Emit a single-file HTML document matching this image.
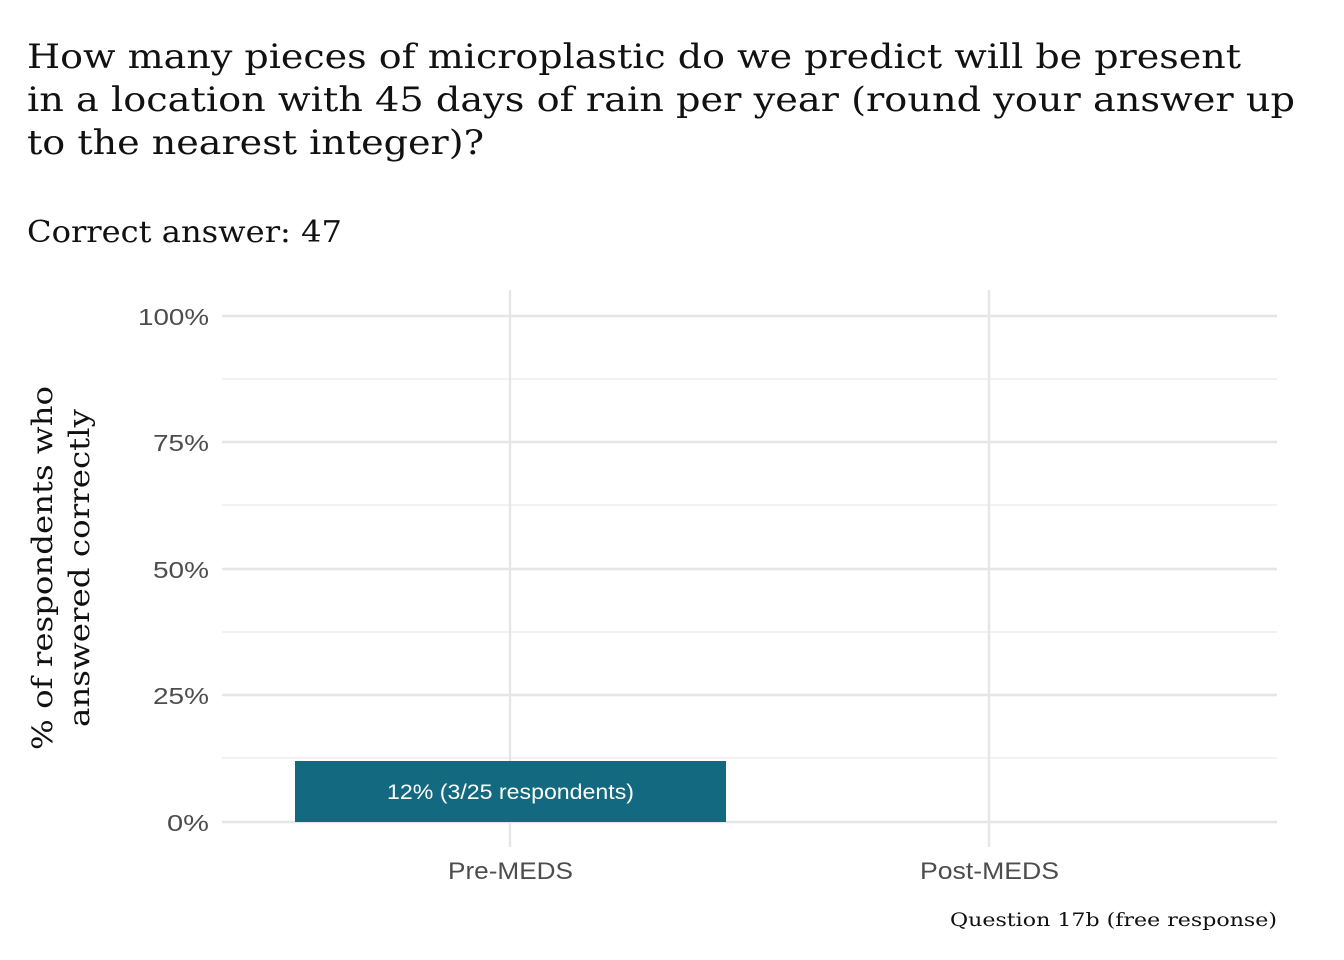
<!DOCTYPE html>
<html><head><meta charset="utf-8"><style>
html,body{margin:0;padding:0;background:#fff;}
svg{display:block;}
.t{font-family:"DejaVu Serif","Liberation Serif",serif;fill:#111;}
.s{font-family:"Liberation Sans","DejaVu Sans",sans-serif;fill:#4d4d4d;}
</style></head><body>
<svg width="1344" height="960" viewBox="0 0 1344 960" xmlns="http://www.w3.org/2000/svg">
<rect width="1344" height="960" fill="#fff"/>
<text class="t" x="27" y="68" font-size="34" textLength="1214" lengthAdjust="spacingAndGlyphs">How many pieces of microplastic do we predict will be present</text>
<text class="t" x="27" y="111" font-size="34" textLength="1268" lengthAdjust="spacingAndGlyphs">in a location with 45 days of rain per year (round your answer up</text>
<text class="t" x="27" y="154" font-size="34" textLength="457" lengthAdjust="spacingAndGlyphs">to the nearest integer)?</text>
<text class="t" x="27" y="242" font-size="30" textLength="315" lengthAdjust="spacingAndGlyphs">Correct answer: 47</text>
<g stroke="#ebebeb" stroke-width="1.2">
<line x1="222" x2="1277" y1="379" y2="379"/><line x1="222" x2="1277" y1="505" y2="505"/>
<line x1="222" x2="1277" y1="632" y2="632"/><line x1="222" x2="1277" y1="758" y2="758"/>
</g>
<g stroke="#e6e6e6" stroke-width="2.4">
<line x1="222" x2="1277" y1="316" y2="316"/><line x1="222" x2="1277" y1="442" y2="442"/>
<line x1="222" x2="1277" y1="569" y2="569"/><line x1="222" x2="1277" y1="695" y2="695"/>
<line x1="222" x2="1277" y1="822" y2="822"/>
<line x1="510" x2="510" y1="290" y2="847"/><line x1="989" x2="989" y1="290" y2="847"/>
</g>
<rect x="295" y="761" width="431" height="61" fill="#136a80"/>
<text x="387" y="799" font-size="21" fill="#fff" font-family="Liberation Sans, sans-serif" textLength="247" lengthAdjust="spacingAndGlyphs">12% (3/25 respondents)</text>
<g class="s" font-size="23">
<text x="138" y="325" textLength="71" lengthAdjust="spacingAndGlyphs">100%</text>
<text x="153" y="451" textLength="56" lengthAdjust="spacingAndGlyphs">75%</text>
<text x="153" y="578" textLength="56" lengthAdjust="spacingAndGlyphs">50%</text>
<text x="153" y="704" textLength="56" lengthAdjust="spacingAndGlyphs">25%</text>
<text x="167" y="831" textLength="42" lengthAdjust="spacingAndGlyphs">0%</text>
</g>
<g class="s" font-size="24">
<text x="448" y="879" textLength="125" lengthAdjust="spacingAndGlyphs">Pre-MEDS</text>
<text x="920" y="879" textLength="139" lengthAdjust="spacingAndGlyphs">Post-MEDS</text>
</g>
<text class="t" transform="translate(52,568) rotate(-90)" font-size="28" text-anchor="middle" textLength="364" lengthAdjust="spacingAndGlyphs">% of respondents who</text>
<text class="t" transform="translate(89,568) rotate(-90)" font-size="28" text-anchor="middle" textLength="318" lengthAdjust="spacingAndGlyphs">answered correctly</text>
<text class="t" x="1277" y="926" font-size="19" text-anchor="end" textLength="327" lengthAdjust="spacingAndGlyphs">Question 17b (free response)</text>
</svg>
</body></html>
